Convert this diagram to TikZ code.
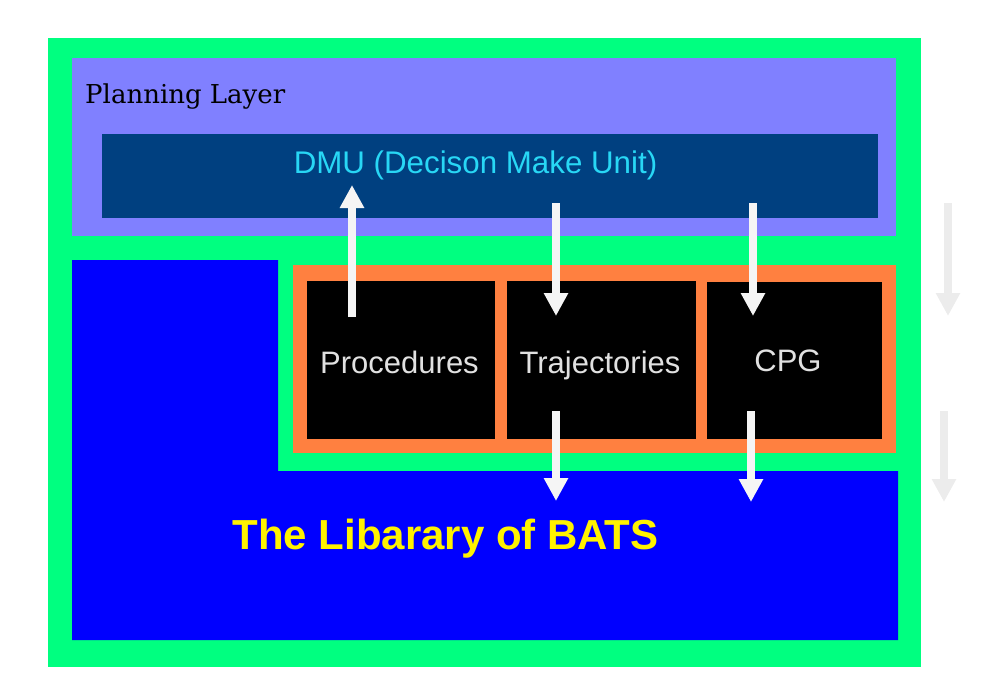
\documentclass[tikz,border=0pt]{standalone}
\usepackage{fontspec}
\setmainfont{Liberation Sans}
\newfontfamily\plfont{DejaVu Serif}
\usetikzlibrary{arrows.meta}
\definecolor{bggreen}{RGB}{0,255,128}
\definecolor{lav}{RGB}{128,128,255}
\definecolor{dmublue}{RGB}{0,64,128}
\definecolor{libblue}{RGB}{0,0,255}
\definecolor{orangeb}{RGB}{255,128,64}
\definecolor{dmutext}{RGB}{40,215,245}
\definecolor{boxtext}{RGB}{225,225,225}
\definecolor{arrw}{RGB}{245,245,245}
\definecolor{faint}{RGB}{236,236,236}
\begin{document}
\begin{tikzpicture}[x=1pt,y=-1pt,
  blk/.style={rectangle, fill=black, inner sep=0pt},
  lbl/.style={inner sep=0pt, anchor=base, text=boxtext, font=\fontsize{31}{36}\selectfont},
  bigarrow/.style={draw=arrw, line width=8pt, -{Triangle[width=23pt,length=23pt]}},
  faintarrow/.style={draw=faint, line width=8pt, -{Triangle[width=23pt,length=23pt]}}]
\useasboundingbox (0,0) rectangle (1003,695);
% outer green frame
\fill[bggreen] (48,38) rectangle (921,667);
% planning layer
\node[rectangle, fill=lav, inner sep=0pt, minimum width=824pt, minimum height=178pt] (plan) at (484,147) {};
\node[inner sep=0pt, anchor=base west, font=\plfont\fontsize{26}{31}\selectfont] (plt) at (85,104) {Planning Layer};
\node[rectangle, fill=dmublue, inner sep=0pt, minimum width=776pt, minimum height=84pt] (dmu) at (490,176) {};
\node[inner sep=0pt, anchor=base, text=dmutext, font=\fontsize{31.3}{36}\selectfont] (dmut) at (475.5,174) {DMU (Decison Make Unit)};
% library L shape
\fill[libblue] (72,260) -- (278,260) -- (278,471) -- (898,471) -- (898,640) -- (72,640) -- cycle;
\node[inner sep=0pt, anchor=base, text=yellow, font=\bfseries\fontsize{42}{48}\selectfont] (lib) at (445.5,549) {The Libarary of BATS};
% orange container
\node[rectangle, fill=orangeb, inner sep=0pt, minimum width=603pt, minimum height=188pt] (org) at (594.5,359) {};
\node[blk, minimum width=188pt, minimum height=158pt] (proc) at (401,360) {};
\node[blk, minimum width=189pt, minimum height=158pt] (traj) at (601.5,360) {};
\node[blk, minimum width=175pt, minimum height=157pt] (cpg) at (794.5,360.5) {};
\node[lbl] (proct) at (399.5,373) {Procedures};
\node[lbl] (trajt) at (600,373) {Trajectories};
\node[lbl] (cpgt) at (788,371) {CPG};
% arrow end points
\coordinate (a1s) at (352,317); \coordinate (a1e) at (352,185);
\coordinate (a2s) at (556,203); \coordinate (a2e) at (556,316);
\coordinate (a3s) at (753,203); \coordinate (a3e) at (753,316);
\coordinate (a4s) at (556,411); \coordinate (a4e) at (556,501);
\coordinate (a5s) at (751,411); \coordinate (a5e) at (751,502);
\coordinate (f1s) at (948,203); \coordinate (f1e) at (948,316);
\coordinate (f2s) at (944,411); \coordinate (f2e) at (944,502);
\draw[bigarrow] (a1s) -- (a1e);
\draw[bigarrow] (a2s) -- (a2e);
\draw[bigarrow] (a3s) -- (a3e);
\draw[bigarrow] (a4s) -- (a4e);
\draw[bigarrow] (a5s) -- (a5e);
\draw[faintarrow] (f1s) -- (f1e);
\draw[faintarrow] (f2s) -- (f2e);
\end{tikzpicture}
\end{document}
